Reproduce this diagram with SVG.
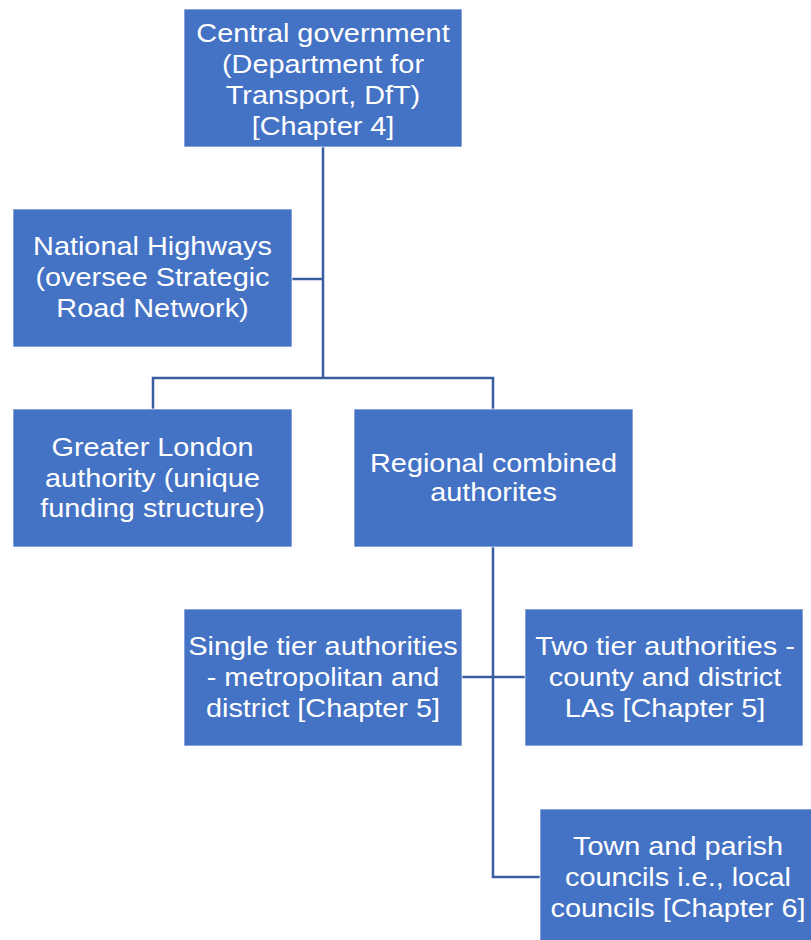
<svg xmlns="http://www.w3.org/2000/svg" width="811" height="940" viewBox="0 0 811 940">
<style>
.box{fill:#4472C4;stroke:#ffffff;stroke-width:1;stroke-opacity:0.7}
.t{font-family:"Liberation Sans",Arial,sans-serif;font-size:26px;fill:#ffffff;text-anchor:middle}
.c{fill:none;stroke:#3A5DA0;stroke-width:2.5}
</style>
<rect width="811" height="940" fill="#ffffff"/>
<g id="connectors">
<path class="c" d="M323 147 V378"/>
<path class="c" d="M292 279 H323"/>
<path class="c" d="M153 409 V378 H493 V409"/>
<path class="c" d="M493 547 V877 H540"/>
<path class="c" d="M462 677 H525"/>
</g>
<g id="central">
<rect class="box" x="184" y="9" width="278" height="138"/>
<g transform="translate(323 0) scale(1.11 1)"><text class="t"><tspan x="0" y="42">Central government</tspan><tspan x="0" y="73">(Department for</tspan><tspan x="0" y="104">Transport, DfT)</tspan><tspan x="0" y="135">[Chapter 4]</tspan></text></g>
</g>
<g id="national">
<rect class="box" x="13" y="209" width="279" height="138"/>
<g transform="translate(152.5 0) scale(1.11 1)"><text class="t"><tspan x="0" y="255">National Highways</tspan><tspan x="0" y="286">(oversee Strategic</tspan><tspan x="0" y="317">Road Network)</tspan></text></g>
</g>
<g id="london">
<rect class="box" x="13" y="409" width="279" height="138"/>
<g transform="translate(152.5 0) scale(1.11 1)"><text class="t"><tspan x="0" y="456">Greater London</tspan><tspan x="0" y="487">authority (unique</tspan><tspan x="0" y="517">funding structure)</tspan></text></g>
</g>
<g id="regional">
<rect class="box" x="354" y="409" width="279" height="138"/>
<g transform="translate(493.5 0) scale(1.11 1)"><text class="t"><tspan x="0" y="472">Regional combined</tspan><tspan x="0" y="501">authorites</tspan></text></g>
</g>
<g id="single">
<rect class="box" x="184" y="609" width="278" height="137"/>
<g transform="translate(323 0) scale(1.11 1)"><text class="t"><tspan x="0" y="655">Single tier authorities</tspan><tspan x="0" y="686">- metropolitan and</tspan><tspan x="0" y="717">district [Chapter 5]</tspan></text></g>
</g>
<g id="twotier">
<rect class="box" x="525" y="609" width="278" height="137"/>
<g transform="translate(665 0) scale(1.11 1)"><text class="t"><tspan x="0" y="655">Two tier authorities -</tspan><tspan x="0" y="686">county and district</tspan><tspan x="0" y="717">LAs [Chapter 5]</tspan></text></g>
</g>
<g id="town">
<rect class="box" x="540" y="809" width="278" height="138"/>
<g transform="translate(678 0) scale(1.11 1)"><text class="t"><tspan x="0" y="855">Town and parish</tspan><tspan x="0" y="886">councils i.e., local</tspan><tspan x="0" y="917">councils [Chapter 6]</tspan></text></g>
</g>
</svg>
